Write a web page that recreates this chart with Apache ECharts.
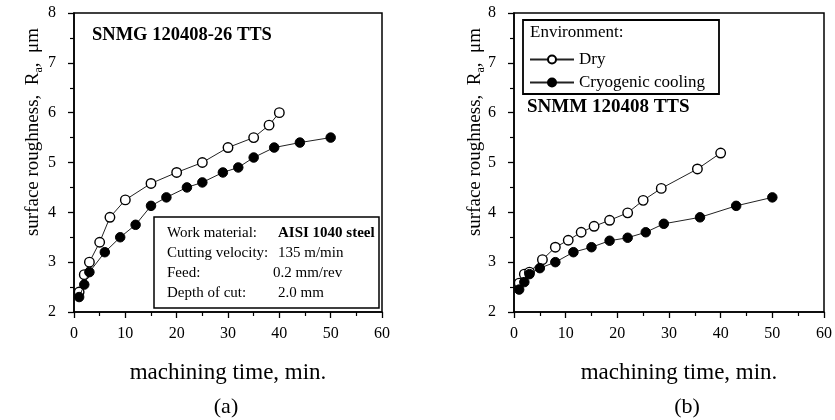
<!DOCTYPE html>
<html>
<head>
<meta charset="UTF-8">
<title>Surface roughness vs machining time</title>
<script src="https://cdn.jsdelivr.net/npm/echarts@6/dist/echarts.min.js"></script>
<style>
  html, body { margin: 0; padding: 0; background: #fff; }
  #chart { width: 835px; height: 420px; }
</style>
</head>
<body>
<div id="chart"></div>
<script>
// (a) SNMG 120408-26 TTS
var timeDryA  = [1, 2, 3, 5, 7, 10, 15, 20, 25, 30, 35, 38, 40];
var raDryA    = [2.4, 2.75, 3.0, 3.4, 3.9, 4.25, 4.58, 4.8, 5.0, 5.3, 5.5, 5.75, 6.0];
var timeCryoA = [1, 2, 3, 6, 9, 12, 15, 18, 22, 25, 29, 32, 35, 39, 44, 50];
var raCryoA   = [2.3, 2.55, 2.8, 3.2, 3.5, 3.75, 4.13, 4.3, 4.5, 4.6, 4.8, 4.9, 5.1, 5.3, 5.4, 5.5];
// (b) SNMM 120408 TTS
var timeDryB  = [1, 2, 3, 5.5, 8, 10.5, 13, 15.5, 18.5, 22, 25, 28.5, 35.5, 40];
var raDryB    = [2.58, 2.76, 2.8, 3.05, 3.3, 3.44, 3.6, 3.72, 3.84, 3.99, 4.24, 4.48, 4.87, 5.19];
var timeCryoB = [1, 2, 3, 5, 8, 11.5, 15, 18.5, 22, 25.5, 29, 36, 43, 50];
var raCryoB   = [2.45, 2.6, 2.76, 2.88, 3.0, 3.2, 3.3, 3.43, 3.49, 3.6, 3.77, 3.9, 4.13, 4.3];

var timeTicks = [0, 10, 20, 30, 40, 50, 60];
var raTicks = [2, 3, 4, 5, 6, 7, 8];
var seriesNames = ['Dry', 'Cryogenic cooling'];
var infoLabels = ['Work material:', 'Cutting velocity:', 'Feed:', 'Depth of cut:'];
var infoValues = ['AISI 1040 steel', '135 m/min', '0.2 mm/rev', '2.0 mm'];

var serif = "'Liberation Serif', 'DejaVu Serif', serif";

function pairs(xs, ys) {
  return xs.map(function (x, i) { return [x, ys[i]]; });
}

function xAxisFor(idx, shift) {
  return {
    type: 'value', gridIndex: idx,
    min: timeTicks[0], max: timeTicks[timeTicks.length - 1],
    interval: timeTicks[1] - timeTicks[0],
    name: 'machining time, min.', nameLocation: 'middle', nameGap: 49,
    nameTextStyle: { fontFamily: serif, fontSize: 23, color: '#000', padding: [0, 0, 0, shift] },
    axisLine: { onZero: false, lineStyle: { color: '#000', width: 1.5 } },
    axisTick: { length: 6, lineStyle: { color: '#000', width: 1.3 } },
    minorTick: { show: true, splitNumber: 2, length: 4, lineStyle: { color: '#000', width: 1.2 } },
    axisLabel: { fontFamily: serif, fontSize: 16, color: '#000', margin: 14 },
    splitLine: { show: false }
  };
}

function yAxisFor(idx) {
  return {
    type: 'value', gridIndex: idx,
    min: raTicks[0], max: raTicks[raTicks.length - 1],
    interval: raTicks[1] - raTicks[0],
    axisLine: { onZero: false, lineStyle: { color: '#000', width: 1.5 } },
    axisTick: { length: 6, lineStyle: { color: '#000', width: 1.3 } },
    minorTick: { show: true, splitNumber: 2, length: 4, lineStyle: { color: '#000', width: 1.2 } },
    axisLabel: { fontFamily: serif, fontSize: 16, color: '#000', margin: 18 },
    splitLine: { show: false }
  };
}

function lineSeries(name, idx, data, open) {
  return {
    name: name, type: 'line', xAxisIndex: idx, yAxisIndex: idx,
    data: data, symbol: 'circle', symbolSize: 9.5,
    lineStyle: { color: '#222', width: 1 },
    itemStyle: open
      ? { color: '#fff', borderColor: '#000', borderWidth: 1.4 }
      : { color: '#000', borderColor: '#000', borderWidth: 1 },
    emphasis: { disabled: true },
    z: open ? 2 : 3
  };
}

function yName(x) {
  return {
    type: 'text', x: x, y: 132, rotation: Math.PI / 2,
    style: {
      text: '{n|surface roughness,  R}{s|a}{n|,  μm}',
      align: 'center', verticalAlign: 'middle', fill: '#000',
      rich: {
        n: { fontFamily: serif, fontSize: 19, color: '#000' },
        s: { fontFamily: serif, fontSize: 12, color: '#000', padding: [12, 0, 0, 0] }
      }
    }
  };
}

var graphics = [
  yName(33), yName(475),
  { type: 'text', x: 92, y: 35, style: { text: 'SNMG 120408-26 TTS', fontFamily: serif, fontSize: 18.5, fontWeight: 'bold', fill: '#000', verticalAlign: 'middle' } },
  { type: 'text', x: 527, y: 107, style: { text: 'SNMM 120408 TTS', fontFamily: serif, fontSize: 19, fontWeight: 'bold', fill: '#000', verticalAlign: 'middle' } },
  { type: 'text', x: 226, y: 407, style: { text: '(a)', fontFamily: serif, fontSize: 22, fill: '#000', align: 'center', verticalAlign: 'middle' } },
  { type: 'text', x: 687, y: 407, style: { text: '(b)', fontFamily: serif, fontSize: 22, fill: '#000', align: 'center', verticalAlign: 'middle' } },
  // info box
  { type: 'rect', shape: { x: 154, y: 217, width: 225, height: 91 }, style: { fill: '#fff', stroke: '#000', lineWidth: 1.5 }, z: 10 },
  // legend box
  { type: 'rect', shape: { x: 523, y: 20, width: 196, height: 74 }, style: { fill: '#fff', stroke: '#000', lineWidth: 1.8 }, z: 1 },
  { type: 'text', x: 530, y: 33, style: { text: 'Environment:', fontFamily: serif, fontSize: 17, fill: '#000', verticalAlign: 'middle' }, z: 2 }
];
var valueX = [278, 278, 273, 278];
infoLabels.forEach(function (lab, i) {
  var y = 233 + i * 20;
  graphics.push({ type: 'text', x: 167, y: y, z: 11, style: { text: lab, fontFamily: serif, fontSize: 15, fill: '#000', verticalAlign: 'middle' } });
  graphics.push({ type: 'text', x: valueX[i], y: y, z: 11, style: { text: infoValues[i], fontFamily: serif, fontSize: 15, fontWeight: i === 0 ? 'bold' : 'normal', fill: '#000', verticalAlign: 'middle' } });
});

var chart = echarts.init(document.getElementById('chart'));
chart.setOption({
  backgroundColor: '#fff',
  animation: false,
  grid: [
    { left: 74, top: 13, width: 308, height: 299, show: true, borderColor: '#000', borderWidth: 1.5, backgroundColor: 'transparent' },
    { left: 514, top: 13, width: 311, height: 299, show: true, borderColor: '#000', borderWidth: 1.5, backgroundColor: 'transparent' }
  ],
  xAxis: [xAxisFor(0, 0), xAxisFor(1, 20)],
  yAxis: [yAxisFor(0), yAxisFor(1)],
  legend: {
    data: seriesNames, orient: 'vertical', left: 529, top: 51,
    itemWidth: 44, itemHeight: 10, itemGap: 6, padding: 0,
    selectedMode: false, z: 5,
    textStyle: { fontFamily: serif, fontSize: 17, color: '#000' }
  },
  graphic: graphics,
  series: [
    lineSeries(seriesNames[0], 0, pairs(timeDryA, raDryA), true),
    lineSeries(seriesNames[1], 0, pairs(timeCryoA, raCryoA), false),
    lineSeries(seriesNames[0], 1, pairs(timeDryB, raDryB), true),
    lineSeries(seriesNames[1], 1, pairs(timeCryoB, raCryoB), false)
  ]
});
</script>
</body>
</html>
